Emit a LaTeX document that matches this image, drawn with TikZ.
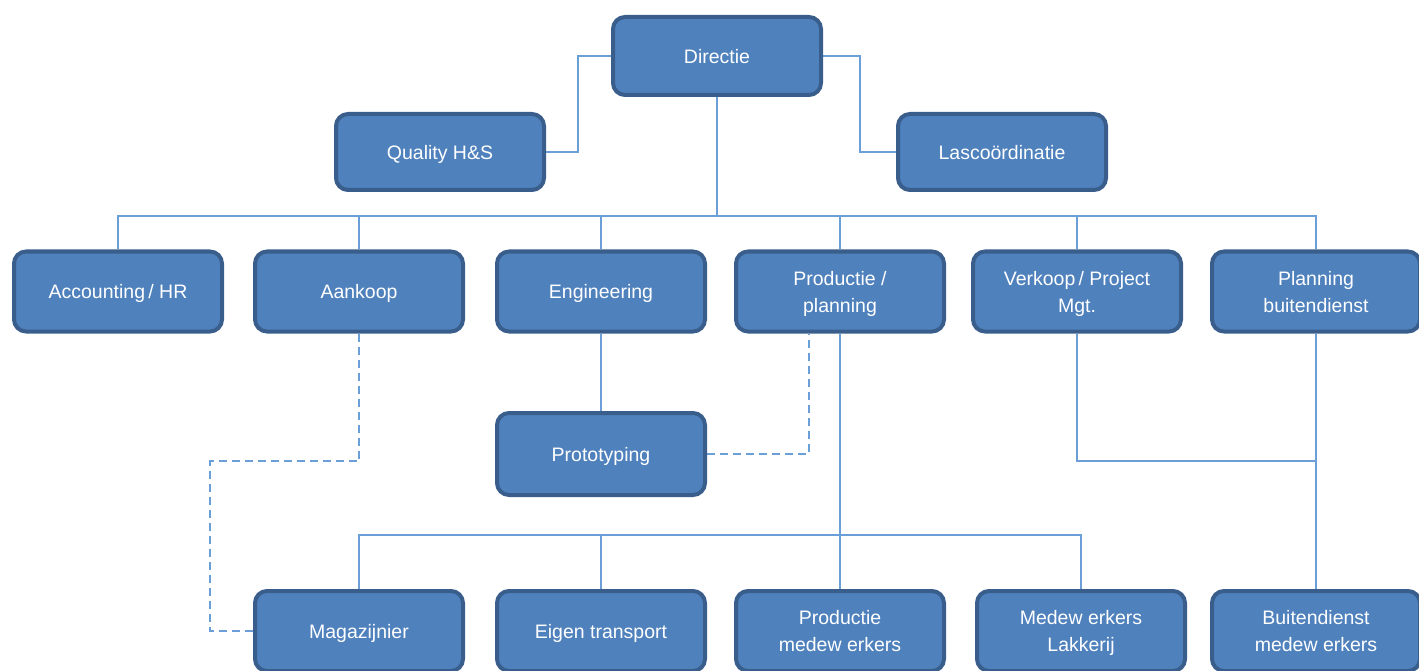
\documentclass[tikz,border=0pt]{standalone}
\usepackage{fontspec}
\setmainfont{Liberation Sans}
\usetikzlibrary{backgrounds}
\definecolor{boxfill}{HTML}{4F81BD}
\definecolor{boxline}{HTML}{3A5E8C}
\definecolor{conn}{HTML}{6A9FD8}
\begin{document}
\begin{tikzpicture}[x=1pt,y=-1pt,
  box/.style={draw=boxline, fill=boxfill, line width=4pt, rounded corners=12pt,
    minimum width=208pt, minimum height=80pt, text=white, align=center,
    font=\fontsize{19.5}{27}\selectfont, inner sep=2pt, text depth=0pt},
  link/.style={draw=conn, line width=2.2pt},
  dlink/.style={draw=conn, line width=2.2pt, dash pattern=on 8pt off 5pt}]
\useasboundingbox (0,0) rectangle (1419,671);
\clip (0,0) rectangle (1419,671);

% nodes
\node[box, minimum height=78pt] (dir) at (717,56) {Directie};
\node[box, minimum height=76pt] (qual) at (440,152) {Quality H\&S};
\node[box, minimum height=76pt] (lasc) at (1002,152) {Lascoördinatie};

\node[box] (acc) at (118,291.5) {Accounting\,/ HR};
\node[box] (aan) at (359,291.5) {Aankoop};
\node[box] (eng) at (601,291.5) {Engineering};
\node[box] (prod) at (840,291.5) {Productie /\\planning};
\node[box] (verk) at (1077,291.5) {Verkoop\,/ Project\\Mgt.};
\node[box] (plan) at (1316,291.5) {Planning\\buitendienst};

\node[box, minimum height=82pt] (proto) at (601,454) {Prototyping};

\node[box] (mag) at (359,631) {Magazijnier};
\node[box] (eig) at (601,631) {Eigen transport};
\node[box] (pmw) at (840,631) {Productie\\medew erkers};
\node[box] (lak) at (1081,631) {Medew erkers\\Lakkerij};
\node[box] (bmw) at (1316,631) {Buitendienst\\medew erkers};

% coordinates
\coordinate (b1) at (717,216);
\coordinate (b2) at (840,535);
\coordinate (qj) at (578,56);
\coordinate (lj) at (860,56);
\coordinate (pd) at (809,454);
\coordinate (ad) at (210,461);
\coordinate (vj) at (1316,461);

% connectors (behind boxes)
\begin{scope}[on background layer]
  \draw[link] (dir.south) -- (b1);
  \draw[link] (acc.north) |- (b1) -| (plan.north);
  \draw[link] (aan.north) -- (aan.north |- b1);
  \draw[link] (eng.north) -- (eng.north |- b1);
  \draw[link] (prod.north) -- (prod.north |- b1);
  \draw[link] (verk.north) -- (verk.north |- b1);
  \draw[link] (dir.west) -- (qj) |- (qual.east);
  \draw[link] (dir.east) -- (lj) |- (lasc.west);
  \draw[link] (eng.south) -- (proto.north);
  \draw[dlink] (proto.east) -| (pd |- prod.south);
  \draw[dlink] (aan.south) |- (ad) |- (mag.west);
  \draw[link] (prod.south) -- (pmw.north);
  \draw[link] (mag.north) |- (b2) -| (lak.north);
  \draw[link] (eig.north) -- (eig.north |- b2);
  \draw[link] (verk.south) |- (vj);
  \draw[link] (plan.south) -- (bmw.north);
\end{scope}
\end{tikzpicture}
\end{document}
